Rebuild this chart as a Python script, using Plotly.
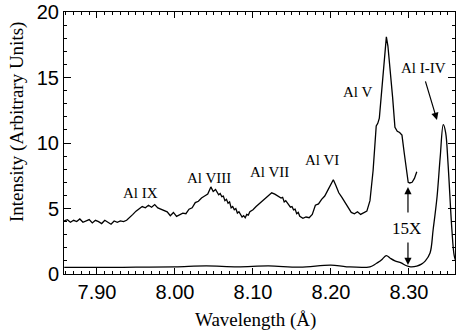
import plotly.graph_objects as go

# Upper trace (15X magnified, offset) : wavelength (Å) and intensity
upper_wl = [7.858, 7.862, 7.866, 7.870, 7.874, 7.878, 7.882, 7.886, 7.890, 7.894,
            7.898, 7.902, 7.906, 7.910, 7.914, 7.918, 7.922, 7.926, 7.930, 7.934,
            7.938, 7.942, 7.946, 7.950, 7.954, 7.958, 7.962, 7.966, 7.970, 7.974,
            7.978, 7.982, 7.986, 7.990, 7.994, 7.998, 8.002, 8.006, 8.010, 8.014,
            8.018, 8.022, 8.026, 8.030, 8.034, 8.038, 8.042, 8.046, 8.049, 8.052,
            8.056, 8.058, 8.060, 8.062, 8.064, 8.066, 8.068, 8.070, 8.072, 8.074,
            8.076, 8.078, 8.080, 8.082, 8.084, 8.086, 8.088, 8.090, 8.092, 8.094,
            8.096, 8.100, 8.104, 8.108, 8.112, 8.116, 8.120, 8.124, 8.128, 8.132,
            8.136, 8.138, 8.140, 8.142, 8.144, 8.146, 8.148, 8.150, 8.152, 8.154,
            8.156, 8.158, 8.160, 8.164, 8.168, 8.172, 8.176, 8.180, 8.184, 8.188,
            8.192, 8.196, 8.200, 8.203, 8.206, 8.210, 8.214, 8.218, 8.222, 8.226,
            8.230, 8.234, 8.238, 8.242, 8.246, 8.250, 8.254, 8.258, 8.260, 8.262,
            8.265, 8.268, 8.271, 8.273, 8.276, 8.279, 8.282, 8.285, 8.288, 8.291,
            8.294, 8.297, 8.299, 8.301, 8.304, 8.307, 8.310]
upper_int = [4.05, 4.15, 3.95, 4.10, 4.00, 4.20, 3.95, 4.05, 4.15, 3.90,
             4.10, 4.00, 3.85, 4.10, 3.95, 3.80, 4.05, 3.95, 4.05, 4.00,
             4.10, 4.30, 4.55, 4.80, 5.00, 5.15, 5.05, 5.25, 5.10, 5.30,
             5.05, 4.95, 4.90, 4.75, 4.45, 4.70, 4.40, 4.50, 4.65, 4.60,
             4.95, 5.05, 5.45, 5.55, 5.80, 5.95, 6.10, 6.65, 6.30, 6.45,
             6.05, 6.15, 5.90, 5.95, 5.60, 5.70, 5.40, 5.50, 5.05, 5.15,
             4.90, 5.00, 4.65, 4.75, 4.55, 4.35, 4.45, 4.30, 4.55, 4.50,
             4.75, 4.90, 5.15, 5.35, 5.55, 5.80, 6.00, 6.20, 6.10, 5.95,
             5.80, 5.85, 5.50, 5.60, 5.40, 5.20, 5.10, 5.15, 4.90, 4.95,
             4.60, 4.70, 4.40, 4.25, 4.35, 4.30, 4.55, 5.25, 5.35, 5.70,
             5.95, 6.40, 6.85, 7.20, 6.80, 6.20, 5.85, 5.45, 5.10, 4.70,
             4.60, 4.75, 4.55, 4.70, 4.80, 5.60, 7.90, 11.3, 11.5, 11.9,
             14.0, 16.5, 18.1, 17.4, 15.6, 13.5, 11.2, 10.9, 10.8, 10.6,
             9.2, 8.0, 7.0, 6.95, 7.0, 7.3, 7.8]

# Lower trace (unscaled)
lower_wl = [7.858, 7.900, 7.950, 8.000, 8.040, 8.080, 8.120, 8.160, 8.200, 8.220,
            8.250, 8.258, 8.262, 8.266, 8.271, 8.276, 8.282, 8.290, 8.296, 8.302,
            8.310, 8.316, 8.321, 8.327, 8.331, 8.336, 8.340, 8.344, 8.347, 8.350,
            8.355, 8.358, 8.361]
lower_int = [0.50, 0.50, 0.52, 0.55, 0.62, 0.55, 0.62, 0.52, 0.68, 0.55,
             0.55, 0.80, 0.95, 1.15, 1.40, 1.20, 1.00, 0.85, 0.65, 0.55,
             0.60, 0.75, 1.00, 1.60, 3.40, 5.90, 8.90, 11.40, 10.80, 8.50,
             3.40, 1.40, 0.80]

x_ticks = [7.90, 8.00, 8.10, 8.20, 8.30]
x_tick_labels = ["7.90", "8.00", "8.10", "8.20", "8.30"]
y_ticks = [0, 5, 10, 15, 20]

ion_labels = ["Al IX", "Al VIII", "Al VII", "Al VI", "Al V", "Al I-IV"]
ion_label_wl = [7.9564, 8.0436, 8.1218, 8.1885, 8.2346, 8.3192]
ion_label_int = [6.18, 7.33, 7.79, 8.70, 13.9, 15.7]

serif = "Liberation Serif, Times New Roman, serif"
sans = "Liberation Sans, Arial, Helvetica, sans-serif"

fig = go.Figure()
fig.add_trace(go.Scatter(x=upper_wl, y=upper_int, mode="lines",
                         line=dict(color="black", width=1.3), showlegend=False))
fig.add_trace(go.Scatter(x=lower_wl, y=lower_int, mode="lines", line_shape="spline",
                         line=dict(color="black", width=1.3), showlegend=False))

for t, xw, yv in zip(ion_labels, ion_label_wl, ion_label_int):
    fig.add_annotation(x=xw, y=yv, text=t, showarrow=False,
                       font=dict(family=serif, size=15, color="black"))

# Al I-IV arrow
fig.add_annotation(x=8.3359, y=11.76, ax=-12, ay=-40, text="", showarrow=True,
                   arrowhead=2, arrowsize=1.2, arrowwidth=1.2, arrowcolor="black")
# 15X label and arrows
fig.add_annotation(x=8.2974, y=3.5, text="15X", showarrow=False,
                   font=dict(family=serif, size=17, color="black"))
fig.add_annotation(x=8.2987, y=6.64, ax=0, ay=27, text="", showarrow=True,
                   arrowhead=2, arrowsize=1.2, arrowwidth=1.2, arrowcolor="black")
fig.add_annotation(x=8.2987, y=0.69, ax=0, ay=-24, text="", showarrow=True,
                   arrowhead=2, arrowsize=1.2, arrowwidth=1.2, arrowcolor="black")

# axis titles
fig.add_annotation(xref="paper", yref="paper", x=0.49, y=-0.175, yanchor="middle",
                   text="Wavelength (Å)", showarrow=False,
                   font=dict(family=serif, size=19, color="black"))
fig.add_annotation(xref="paper", yref="paper", x=-0.120, y=0.58, xanchor="center",
                   text="Intensity (Arbitrary Units)", showarrow=False, textangle=-90,
                   font=dict(family=serif, size=19, color="black"))

fig.update_layout(
    width=456, height=331,
    margin=dict(l=64, r=1, t=12, b=57),
    paper_bgcolor="white", plot_bgcolor="white",
    xaxis=dict(range=[7.8577, 8.359], tickvals=x_ticks, ticktext=x_tick_labels,
               ticks="inside", ticklen=6, tickwidth=1, tickcolor="black",
               showline=True, linecolor="black", linewidth=1, mirror="allticks",
               showgrid=False, zeroline=False,
               tickfont=dict(family=sans, size=20, color="black"),
               minor=dict(dtick=0.01, tick0=7.9, ticks="inside", ticklen=3,
                          tickcolor="black", showgrid=False)),
    yaxis=dict(range=[0, 20], tickvals=y_ticks,
               ticks="inside", ticklen=7, tickwidth=1, tickcolor="black",
               showline=True, linecolor="black", linewidth=1, mirror="allticks",
               showgrid=False, zeroline=False,
               tickfont=dict(family=sans, size=20, color="black"),
               minor=dict(dtick=1, tick0=0, ticks="inside", ticklen=3,
                          tickcolor="black", showgrid=False)),
)

fig.write_html("out.html")
